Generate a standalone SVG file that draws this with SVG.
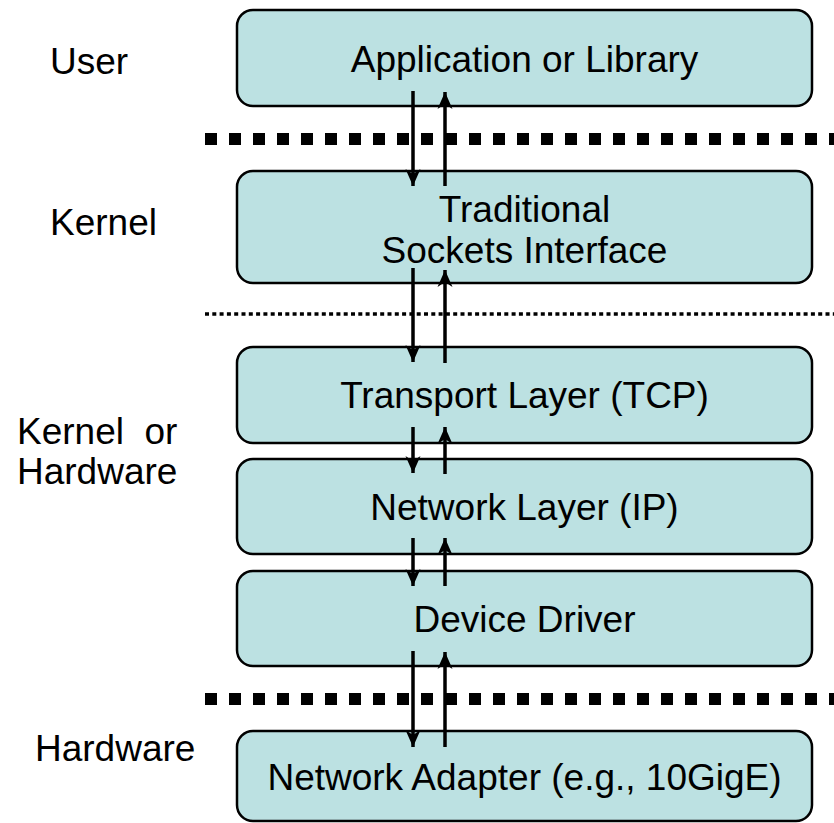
<svg xmlns="http://www.w3.org/2000/svg" width="834" height="823" viewBox="0 0 834 823">
  <style>
    .box { fill: #bce1e2; stroke: #000; stroke-width: 2.5; }
    .lbl { font-family: "Liberation Sans", Arial, sans-serif; font-size: 37px; fill: #000; }
    .mid { text-anchor: middle; }
    .arr { stroke: #000; stroke-width: 3.5; fill: none; }
    .sep-thick { stroke: #000; stroke-width: 12; stroke-dasharray: 12 12; }
    .sep-thin { stroke: #000; stroke-width: 3.5; stroke-dasharray: 4 3.3; }
  </style>
  <defs>
    <marker id="head" viewBox="-18 -8 20 16" refX="0" refY="0" markerWidth="20" markerHeight="16" markerUnits="userSpaceOnUse" orient="auto">
      <path d="M0,0 L-17,-7.5 L-12,0 L-17,7.5 Z" fill="#000"/>
    </marker>
  </defs>

  <rect width="834" height="823" fill="#fff"/>

  <!-- privilege boundaries -->
  <g id="separators">
    <line class="sep-thick" x1="205" y1="139" x2="834" y2="139"/>
    <line class="sep-thin" x1="205" y1="314" x2="834" y2="314"/>
    <line class="sep-thick" x1="205" y1="699" x2="834" y2="699"/>
  </g>

  <!-- side labels -->
  <g id="side-labels">
    <text class="lbl" x="50" y="74">User</text>
    <text class="lbl" x="50" y="235">Kernel</text>
    <text class="lbl" x="17" y="444" xml:space="preserve">Kernel  or</text>
    <text class="lbl" x="17" y="484">Hardware</text>
    <text class="lbl" x="35" y="761">Hardware</text>
  </g>

  <g id="app">
    <rect class="box" x="237" y="10" width="575" height="96" rx="16"/>
    <text class="lbl mid" x="524.5" y="72">Application or Library</text>
  </g>
  <g id="sockets">
    <rect class="box" x="237" y="171" width="575" height="112" rx="16"/>
    <text class="lbl mid" x="524.5" y="222">Traditional</text>
    <text class="lbl mid" x="524.5" y="263">Sockets Interface</text>
  </g>
  <g id="transport">
    <rect class="box" x="237" y="347" width="575" height="96" rx="16"/>
    <text class="lbl mid" x="524.5" y="408">Transport Layer (TCP)</text>
  </g>
  <g id="network">
    <rect class="box" x="237" y="459" width="575" height="95" rx="16"/>
    <text class="lbl mid" x="524.5" y="520">Network Layer (IP)</text>
  </g>
  <g id="driver">
    <rect class="box" x="237" y="571" width="575" height="95" rx="16"/>
    <text class="lbl mid" x="524.5" y="632">Device Driver</text>
  </g>
  <g id="adapter">
    <rect class="box" x="237" y="731" width="575" height="90" rx="16"/>
    <text class="lbl mid" x="524.5" y="790" font-size="38">Network Adapter (e.g., 10GigE)</text>
  </g>

  <!-- data flow between layers -->
  <g id="connectors">
    <line class="arr" x1="413" y1="91" x2="413" y2="186" marker-end="url(#head)"/>
    <line class="arr" x1="445" y1="186" x2="445" y2="92" marker-end="url(#head)"/>
    <line class="arr" x1="413" y1="268" x2="413" y2="362" marker-end="url(#head)"/>
    <line class="arr" x1="445" y1="363" x2="445" y2="270" marker-end="url(#head)"/>
    <line class="arr" x1="413" y1="427" x2="413" y2="473" marker-end="url(#head)"/>
    <line class="arr" x1="445" y1="474" x2="445" y2="427" marker-end="url(#head)"/>
    <line class="arr" x1="413" y1="538" x2="413" y2="586" marker-end="url(#head)"/>
    <line class="arr" x1="445" y1="586" x2="445" y2="538" marker-end="url(#head)"/>
    <line class="arr" x1="413" y1="651" x2="413" y2="747" marker-end="url(#head)"/>
    <line class="arr" x1="445" y1="747" x2="445" y2="652" marker-end="url(#head)"/>
  </g>
</svg>
